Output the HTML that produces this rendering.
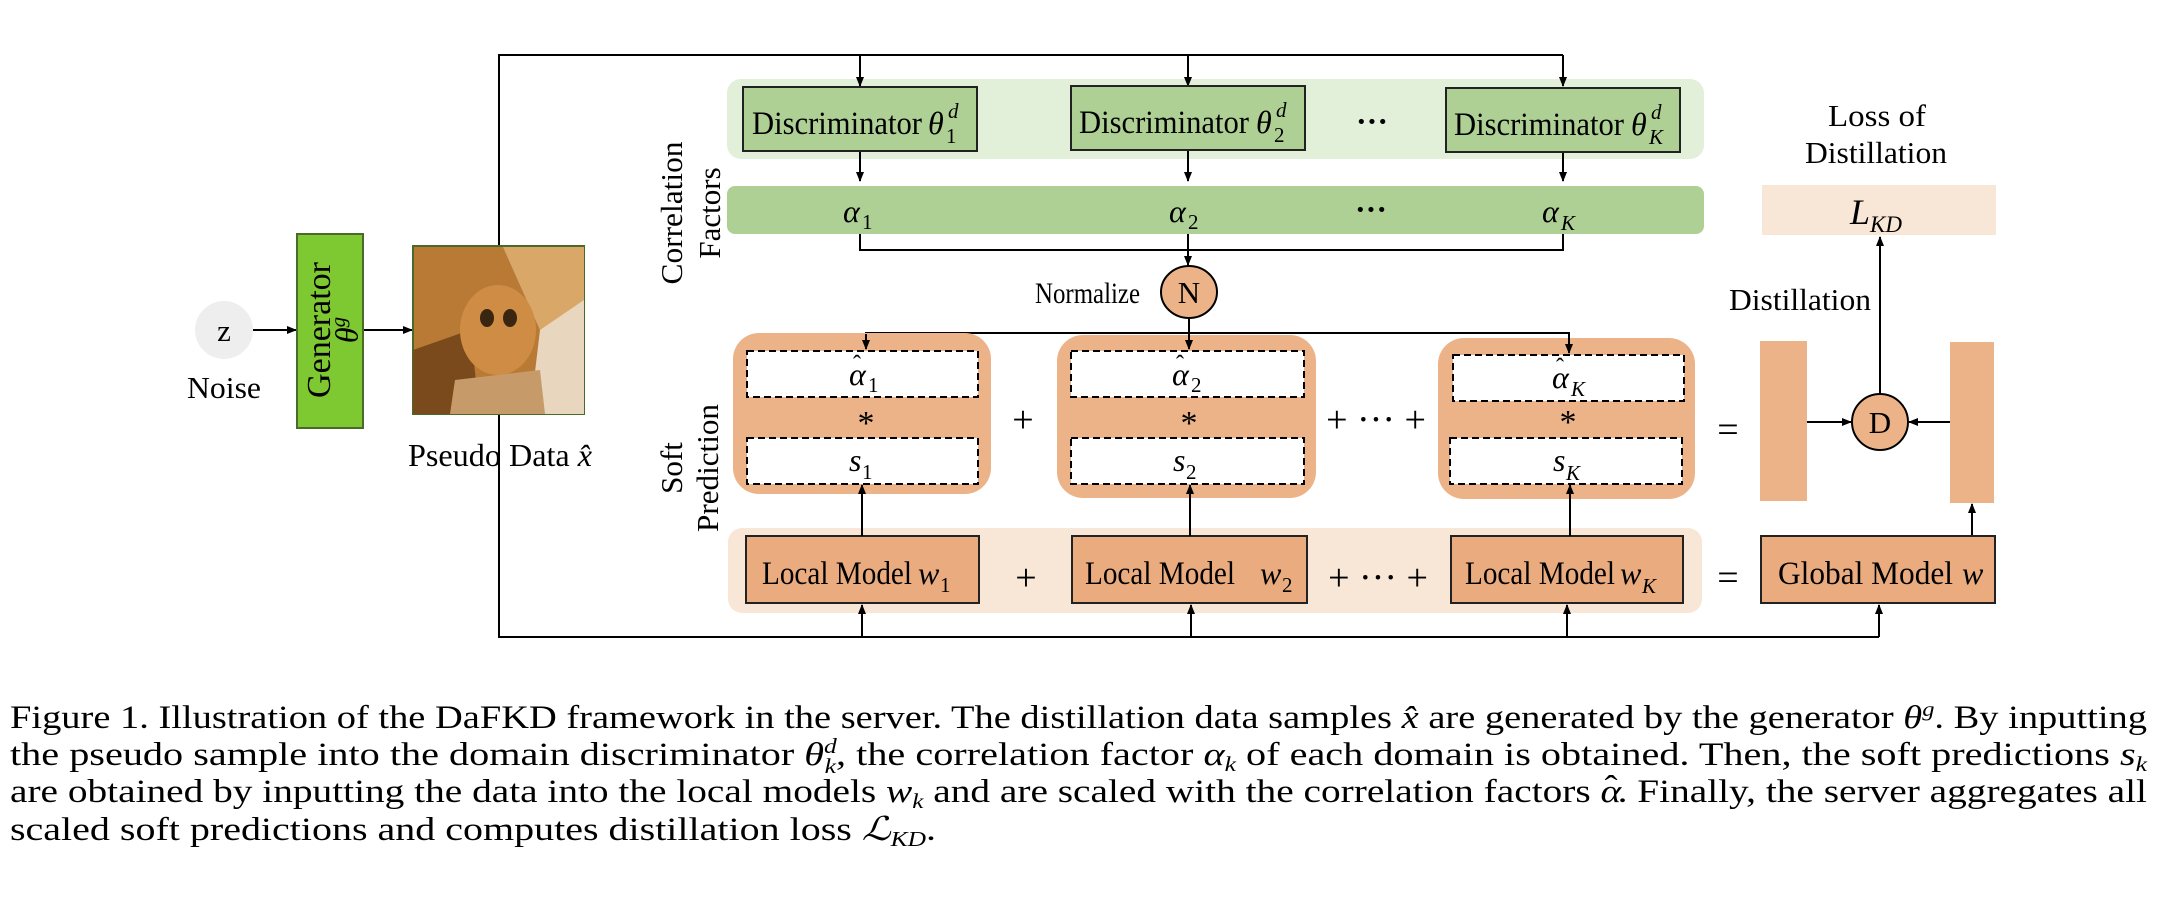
<!DOCTYPE html>
<html><head><meta charset="utf-8"><style>
html,body{margin:0;padding:0;background:#fff;}
svg{display:block;}
text{font-family:"Liberation Serif",serif;fill:#000;}
.it{font-style:italic;}
</style></head><body>
<svg width="2158" height="900" viewBox="0 0 2158 900" xmlns="http://www.w3.org/2000/svg">
<defs>
<marker id="ah" markerWidth="10" markerHeight="10" refX="9" refY="5" orient="auto" markerUnits="userSpaceOnUse">
<path d="M0,1 L10,5 L0,9 Z" fill="#000"/></marker>
</defs>

<rect x="727" y="79" width="977" height="80" rx="14" fill="#e2efd9"/>
<rect x="727" y="186" width="977" height="48" rx="8" fill="#afd095"/>
<rect x="728" y="528" width="974" height="85" rx="14" fill="#f8e6d6"/>

<g stroke="#000" stroke-width="2" fill="none">
<polyline points="499,246 499,55 1563,55"/>
<polyline points="499,412 499,637 1879,637"/>
<line x1="860" y1="55" x2="860" y2="86" marker-end="url(#ah)"/>
<line x1="1188" y1="55" x2="1188" y2="86" marker-end="url(#ah)"/>
<line x1="1563" y1="55" x2="1563" y2="86" marker-end="url(#ah)"/>
<line x1="860" y1="151" x2="860" y2="181" marker-end="url(#ah)"/>
<line x1="1188" y1="151" x2="1188" y2="181" marker-end="url(#ah)"/>
<line x1="1563" y1="151" x2="1563" y2="181" marker-end="url(#ah)"/>
<polyline points="860,234 860,250 1563,250 1563,234"/>
<line x1="1188" y1="234" x2="1188" y2="265" marker-end="url(#ah)"/>
<polyline points="866,346 866,333 1569,333 1569,346"/>
<line x1="1189" y1="319" x2="1189" y2="346" marker-end="url(#ah)"/>
</g>

<g fill="#afd095" stroke="#222" stroke-width="2">
<rect x="743" y="87" width="234" height="64"/>
<rect x="1071" y="86" width="234" height="64"/>
<rect x="1446" y="88" width="234" height="64"/>
</g>
<text x="752" y="134" font-size="33" textLength="170" lengthAdjust="spacingAndGlyphs">Discriminator</text>
<text x="928" y="134" font-size="32" class="it">θ</text><text x="948" y="118" font-size="21" class="it">d</text><text x="946" y="143" font-size="21">1</text>
<text x="1079" y="133" font-size="33" textLength="170" lengthAdjust="spacingAndGlyphs">Discriminator</text>
<text x="1256" y="133" font-size="32" class="it">θ</text><text x="1276" y="117" font-size="21" class="it">d</text><text x="1274" y="142" font-size="21">2</text>
<text x="1454" y="135" font-size="33" textLength="170" lengthAdjust="spacingAndGlyphs">Discriminator</text>
<text x="1631" y="135" font-size="32" class="it">θ</text><text x="1651" y="119" font-size="21" class="it">d</text><text x="1649" y="144" font-size="21" class="it">K</text>
<text x="1372" y="132" font-size="32" text-anchor="middle" font-weight="bold">···</text>

<text x="843" y="222" font-size="32" class="it">α</text><text x="862" y="229" font-size="21">1</text>
<text x="1169" y="222" font-size="32" class="it">α</text><text x="1188" y="229" font-size="21">2</text>
<text x="1371" y="220" font-size="32" text-anchor="middle" font-weight="bold">···</text>
<text x="1542" y="222" font-size="32" class="it">α</text><text x="1561" y="230" font-size="21" class="it">K</text>

<text transform="translate(682,213) rotate(-90)" font-size="31" text-anchor="middle" textLength="143" lengthAdjust="spacingAndGlyphs">Correlation</text>
<text transform="translate(720,213) rotate(-90)" font-size="31" text-anchor="middle">Factors</text>
<text transform="translate(682,468) rotate(-90)" font-size="31" text-anchor="middle">Soft</text>
<text transform="translate(718,468) rotate(-90)" font-size="31" text-anchor="middle" textLength="128" lengthAdjust="spacingAndGlyphs">Prediction</text>

<text x="1140" y="303" font-size="30" text-anchor="end" textLength="105" lengthAdjust="spacingAndGlyphs">Normalize</text>
<ellipse cx="1189" cy="292" rx="28" ry="26" fill="#edb388" stroke="#000" stroke-width="2"/>
<text x="1189" y="303" font-size="31" text-anchor="middle">N</text>

<g fill="#edb388">
<rect x="733" y="333" width="258" height="161" rx="26"/>
<rect x="1057" y="335" width="259" height="163" rx="26"/>
<rect x="1438" y="338" width="257" height="161" rx="26"/>
</g>
<g fill="#fff" stroke="#000" stroke-width="2" stroke-dasharray="7,4">
<rect x="747" y="351" width="231" height="46"/><rect x="747" y="438" width="231" height="46"/>
<rect x="1071" y="351" width="233" height="46"/><rect x="1071" y="438" width="233" height="46"/>
<rect x="1453" y="355" width="231" height="46"/><rect x="1450" y="438" width="232" height="46"/>
</g>
<g stroke="#000" stroke-width="2" fill="none">
<line x1="866" y1="334" x2="866" y2="349" marker-end="url(#ah)"/>
<line x1="1189" y1="334" x2="1189" y2="349" marker-end="url(#ah)"/>
<line x1="1569" y1="334" x2="1569" y2="353" marker-end="url(#ah)"/>
</g>
<text x="849" y="385" font-size="32" class="it">α</text><text x="853" y="372" font-size="24">ˆ</text><text x="868" y="392" font-size="21">1</text>
<text x="1172" y="385" font-size="32" class="it">α</text><text x="1176" y="372" font-size="24">ˆ</text><text x="1191" y="392" font-size="21">2</text>
<text x="1552" y="388" font-size="32" class="it">α</text><text x="1556" y="375" font-size="24">ˆ</text><text x="1571" y="396" font-size="21" class="it">K</text>
<text x="866" y="434" font-size="34" text-anchor="middle">*</text>
<text x="1189" y="434" font-size="34" text-anchor="middle">*</text>
<text x="1568" y="433" font-size="34" text-anchor="middle">*</text>
<text x="849" y="471" font-size="32" class="it">s</text><text x="862" y="479" font-size="21">1</text>
<text x="1173" y="471" font-size="32" class="it">s</text><text x="1186" y="479" font-size="21">2</text>
<text x="1553" y="471" font-size="32" class="it">s</text><text x="1566" y="480" font-size="21" class="it">K</text>
<text x="1023" y="432" font-size="38" text-anchor="middle">+</text>
<text x="1376" y="432" font-size="38" text-anchor="middle">+ ··· +</text>
<text x="1728" y="442" font-size="38" text-anchor="middle">=</text>

<rect x="1760" y="341" width="47" height="160" fill="#edb388"/>
<rect x="1950" y="342" width="44" height="161" fill="#edb388"/>
<g stroke="#000" stroke-width="2" fill="none">
<line x1="1807" y1="422" x2="1851" y2="422" marker-end="url(#ah)"/>
<line x1="1950" y1="422" x2="1909" y2="422" marker-end="url(#ah)"/>
<line x1="1880" y1="394" x2="1880" y2="237" marker-end="url(#ah)"/>
<line x1="1972" y1="536" x2="1972" y2="504" marker-end="url(#ah)"/>
</g>
<ellipse cx="1880" cy="422" rx="28" ry="28" fill="#edb388" stroke="#000" stroke-width="2"/>
<text x="1880" y="433" font-size="31" text-anchor="middle">D</text>
<rect x="1762" y="185" width="234" height="50" fill="#f8e6d6"/>
<text x="1850" y="224" font-size="36" class="it">L</text><text x="1870" y="232" font-size="23" class="it">KD</text>
<text x="1877" y="126" font-size="31" text-anchor="middle" textLength="98" lengthAdjust="spacingAndGlyphs">Loss of</text>
<text x="1876" y="163" font-size="31" text-anchor="middle" textLength="142" lengthAdjust="spacingAndGlyphs">Distillation</text>
<text x="1800" y="310" font-size="31" text-anchor="middle" textLength="142" lengthAdjust="spacingAndGlyphs">Distillation</text>

<g fill="#eaac7e" stroke="#222" stroke-width="2">
<rect x="746" y="536" width="233" height="67"/>
<rect x="1072" y="536" width="235" height="67"/>
<rect x="1451" y="536" width="232" height="67"/>
<rect x="1761" y="536" width="234" height="67"/>
</g>
<text x="762" y="584" font-size="33" textLength="150" lengthAdjust="spacingAndGlyphs">Local Model</text>
<text x="918" y="584" font-size="32" class="it">w</text><text x="940" y="592" font-size="21">1</text>
<text x="1085" y="584" font-size="33" textLength="150" lengthAdjust="spacingAndGlyphs">Local Model</text>
<text x="1260" y="584" font-size="32" class="it">w</text><text x="1282" y="592" font-size="21">2</text>
<text x="1465" y="584" font-size="33" textLength="150" lengthAdjust="spacingAndGlyphs">Local Model</text>
<text x="1620" y="584" font-size="32" class="it">w</text><text x="1642" y="593" font-size="21" class="it">K</text>
<text x="1778" y="584" font-size="33" textLength="175" lengthAdjust="spacingAndGlyphs">Global Model</text>
<text x="1962" y="584" font-size="32" class="it">w</text>
<text x="1026" y="590" font-size="38" text-anchor="middle">+</text>
<text x="1378" y="590" font-size="38" text-anchor="middle">+ ··· +</text>
<text x="1728" y="590" font-size="38" text-anchor="middle">=</text>
<g stroke="#000" stroke-width="2" fill="none">
<line x1="862" y1="536" x2="862" y2="485" marker-end="url(#ah)"/>
<line x1="1190" y1="536" x2="1190" y2="485" marker-end="url(#ah)"/>
<line x1="1570" y1="536" x2="1570" y2="485" marker-end="url(#ah)"/>
<line x1="862" y1="637" x2="862" y2="605" marker-end="url(#ah)"/>
<line x1="1191" y1="637" x2="1191" y2="605" marker-end="url(#ah)"/>
<line x1="1567" y1="637" x2="1567" y2="605" marker-end="url(#ah)"/>
<line x1="1879" y1="637" x2="1879" y2="605" marker-end="url(#ah)"/>
</g>

<ellipse cx="224" cy="330" rx="29" ry="29" fill="#eeeeee"/>
<text x="224" y="341" font-size="31" text-anchor="middle">z</text>
<text x="224" y="398" font-size="31" text-anchor="middle" textLength="74" lengthAdjust="spacingAndGlyphs">Noise</text>
<g stroke="#000" stroke-width="2" fill="none">
<line x1="253" y1="330" x2="296" y2="330" marker-end="url(#ah)"/>
<line x1="363" y1="330" x2="412" y2="330" marker-end="url(#ah)"/>
</g>
<rect x="297" y="234" width="66" height="194" fill="#7ec832" stroke="#4a6a2a" stroke-width="2"/>
<text transform="translate(322,330) rotate(-90)" font-size="34" text-anchor="middle" dominant-baseline="middle">Generator</text>
<text transform="translate(350,330) rotate(-90)" font-size="32" text-anchor="middle" dominant-baseline="middle" class="it">θ<tspan font-size="21" dy="-10">g</tspan></text>

<g>
<rect x="413" y="246" width="171" height="168" fill="#b87a35" stroke="#4a6a2a" stroke-width="2"/>
<path d="M503,247 L584,247 L584,330 L540,330 Z" fill="#d9a868"/>
<path d="M540,330 L584,300 L584,414 L530,414 Z" fill="#e8d6bf"/>
<path d="M413,350 L470,330 L480,414 L413,414 Z" fill="#7a4a1c"/>
<ellipse cx="498" cy="330" rx="38" ry="45" fill="#cf8c45"/>
<ellipse cx="487" cy="318" rx="7" ry="9" fill="#3a2510"/>
<ellipse cx="510" cy="318" rx="7" ry="9" fill="#3a2510"/>
<path d="M455,380 L540,370 L545,414 L450,414 Z" fill="#c79a6a"/>
</g>
<text x="500" y="466" font-size="32" text-anchor="middle" textLength="184" lengthAdjust="spacingAndGlyphs">Pseudo Data <tspan class="it">x̂</tspan></text>

<g font-size="33">
<text x="10" y="728" textLength="2137" lengthAdjust="spacingAndGlyphs">Figure 1. Illustration of the DaFKD framework in the server. The distillation data samples <tspan class="it">x̂</tspan> are generated by the generator <tspan class="it">θ</tspan><tspan font-size="21" dy="-12" class="it">g</tspan><tspan dy="12">. By inputting</tspan></text>
<text x="10" y="765" textLength="2137" lengthAdjust="spacingAndGlyphs">the pseudo sample into the domain discriminator <tspan class="it">θ</tspan><tspan font-size="21" dy="-12" class="it">d</tspan><tspan font-size="21" dx="-10" dy="20" class="it">k</tspan><tspan dy="-8">, the correlation factor </tspan><tspan class="it">α</tspan><tspan font-size="21" dy="6" class="it">k</tspan><tspan dy="-6"> of each domain is obtained.  Then, the soft predictions </tspan><tspan class="it">s</tspan><tspan font-size="21" dy="6" class="it">k</tspan></text>
<text x="10" y="802" textLength="2137" lengthAdjust="spacingAndGlyphs">are obtained by inputting the data into the local models <tspan class="it">w</tspan><tspan font-size="21" dy="6" class="it">k</tspan><tspan dy="-6"> and are scaled with the correlation factors </tspan><tspan class="it">α</tspan><tspan dx="-14" dy="-4">ˆ</tspan><tspan dy="4">. Finally, the server aggregates all</tspan></text>
<text x="10" y="840" textLength="926" lengthAdjust="spacingAndGlyphs">scaled soft predictions and computes distillation loss <tspan class="it">ℒ</tspan><tspan font-size="21" dy="6" class="it">KD</tspan><tspan dy="-6">.</tspan></text>
</g>
</svg>
</body></html>
